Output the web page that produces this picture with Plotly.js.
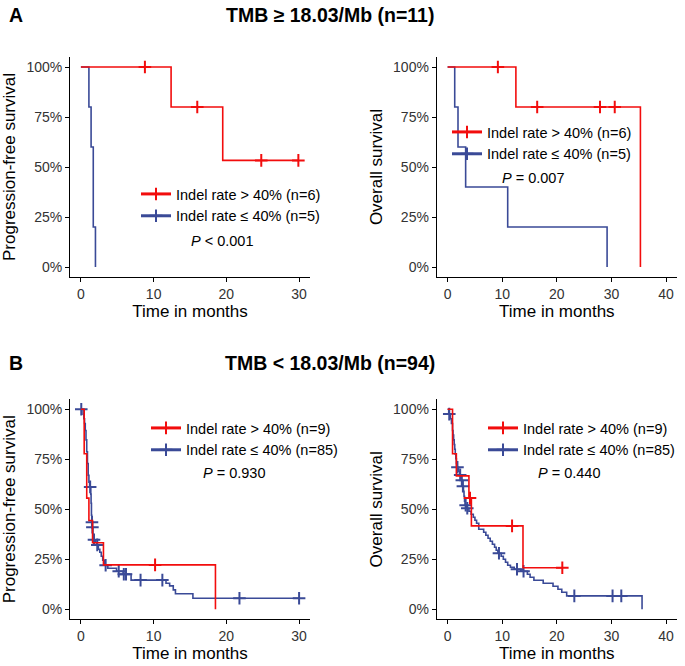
<!DOCTYPE html>
<html>
<head>
<meta charset="utf-8">
<script src="https://cdn.plot.ly/plotly-3.0.1.min.js"></script>
<style>html,body{margin:0;padding:0;background:#fff;}#chart{width:685px;height:666px;}</style>
</head>
<body>
<div id="chart"></div>
<script>
// ---------- DATA ----------
const groupNames = ["Indel rate > 40%", "Indel rate ≤ 40%"];
const panelTitles = ["TMB ≥ 18.03/Mb (n=11)", "TMB < 18.03/Mb (n=94)"];
const panelLetters = ["A", "B"];
const pValues = ["< 0.001", "= 0.007", "= 0.930", "= 0.440"];
const nHighA = [6, 5];
const nLowB = [9, 85];
const yTickVals = [0, 0.25, 0.5, 0.75, 1];
const yTickText = ["0%", "25%", "50%", "75%", "100%"];
const xTicksPFS = [0, 10, 20, 30];
const xTicksOS = [0, 10, 20, 30, 40];

// Panel A left: PFS, TMB high
const aPfsRedT = [0, 12.4, 19.5, 29.9];
const aPfsRedS = [1, 0.8, 0.533, 0.533];
const aPfsRedCensT = [8.8, 16.0, 24.8, 29.9];
const aPfsRedCensS = [1, 0.8, 0.533, 0.533];
const aPfsBlueT = [0, 1.1, 1.4, 1.7, 2.0];
const aPfsBlueS = [1, 0.8, 0.6, 0.2, 0];
const aPfsBlueCensT = [];
const aPfsBlueCensS = [];

// Panel A right: OS, TMB high
const aOsRedT = [0, 12.5, 35.3];
const aOsRedS = [1, 0.8, 0];
const aOsRedCensT = [9.2, 16.4, 27.9, 30.6];
const aOsRedCensS = [1, 0.8, 0.8, 0.8];
const aOsBlueT = [0, 1.3, 1.9, 3.3, 11.0, 29.2];
const aOsBlueS = [1, 0.8, 0.6, 0.4, 0.2, 0];
const aOsBlueCensT = [];
const aOsBlueCensS = [];

// Panel B left: PFS, TMB low
const bPfsRedT = [0, 0.45, 0.8, 1.1, 1.6, 3.1, 18.5];
const bPfsRedS = [1, 0.778, 0.556, 0.444, 0.333, 0.222, 0];
const bPfsRedCensT = [10.2];
const bPfsRedCensS = [0.222];
const bPfsBlueT = [0, 0.3, 0.4, 0.5, 0.6, 0.7, 0.8, 0.9, 1.0, 1.1, 1.2, 1.35, 1.4, 1.45, 1.5, 1.55, 1.65, 1.7, 2.0, 2.15, 2.4, 2.6, 2.8, 3.0, 3.2, 3.7, 4.9, 5.8, 6.9, 11.7, 12.2, 12.7, 13.0, 15.4, 30.0];
const bPfsBlueS = [1, 0.976, 0.953, 0.929, 0.894, 0.847, 0.788, 0.729, 0.67, 0.635, 0.612, 0.576, 0.53, 0.47, 0.435, 0.41, 0.375, 0.348, 0.335, 0.322, 0.30, 0.285, 0.265, 0.245, 0.22, 0.205, 0.19, 0.175, 0.146, 0.13, 0.117, 0.097, 0.078, 0.055, 0.055];
const bPfsBlueCensT = [0.05, 1.27, 1.52, 1.58, 1.8, 2.25, 3.4, 5.2, 5.9, 6.2, 8.2, 11.2, 21.8, 30.0];
const bPfsBlueCensS = [1, 0.612, 0.435, 0.41, 0.348, 0.322, 0.22, 0.19, 0.175, 0.175, 0.146, 0.146, 0.055, 0.055];

// Panel B right: OS, TMB low
const bOsRedT = [0, 0.9, 1.6, 3.9, 4.35, 13.8, 21.0];
const bOsRedS = [1, 0.778, 0.667, 0.556, 0.417, 0.208, 0.208];
const bOsRedCensT = [4.1, 11.8, 21.0];
const bOsRedCensS = [0.556, 0.417, 0.208];
const bOsBlueT = [0, 0.2, 0.5, 0.7, 0.9, 1.0, 1.1, 1.2, 1.3, 1.4, 1.5, 1.6, 1.65, 2.0, 2.2, 2.5, 2.7, 2.9, 3.0, 3.1, 3.2, 3.4, 3.9, 4.3, 4.7, 5.0, 5.3, 5.7, 6.6, 7.0, 7.4, 7.8, 8.2, 8.6, 8.9, 9.2, 9.8, 10.2, 10.6, 11.0, 11.5, 12.2, 13.4, 14.6, 15.1, 15.8, 17.5, 19.3, 20.2, 20.9, 21.8, 35.6];
const bOsBlueS = [1, 0.976, 0.953, 0.929, 0.894, 0.871, 0.847, 0.824, 0.80, 0.776, 0.753, 0.729, 0.71, 0.69, 0.672, 0.645, 0.615, 0.59, 0.565, 0.54, 0.52, 0.505, 0.49, 0.475, 0.46, 0.445, 0.43, 0.40, 0.385, 0.37, 0.355, 0.34, 0.325, 0.31, 0.295, 0.28, 0.265, 0.25, 0.235, 0.22, 0.21, 0.20, 0.19, 0.175, 0.16, 0.145, 0.13, 0.115, 0.10, 0.085, 0.067, 0];
const bOsBlueCensT = [0.3, 1.8, 2.3, 2.6, 2.8, 3.3, 3.6, 9.4, 12.7, 13.9, 23.2, 30.2, 31.8];
const bOsBlueCensS = [0.976, 0.71, 0.672, 0.645, 0.615, 0.52, 0.505, 0.28, 0.20, 0.19, 0.067, 0.067, 0.067];

// ---------- STYLE ----------
const RED = "#F20D0D";
const BLUE = "#3A4A97";
const FONT = "Liberation Sans, Arial, sans-serif";
const W = 685, H = 666;

const panels = [
  {xa: "x", ya: "y", leg: "legend", redT: aPfsRedT, redS: aPfsRedS, redCT: aPfsRedCensT, redCS: aPfsRedCensS,
   blueT: aPfsBlueT, blueS: aPfsBlueS, blueCT: aPfsBlueCensT, blueCS: aPfsBlueCensS, n: nHighA},
  {xa: "x2", ya: "y2", leg: "legend2", redT: aOsRedT, redS: aOsRedS, redCT: aOsRedCensT, redCS: aOsRedCensS,
   blueT: aOsBlueT, blueS: aOsBlueS, blueCT: aOsBlueCensT, blueCS: aOsBlueCensS, n: nHighA},
  {xa: "x3", ya: "y3", leg: "legend3", redT: bPfsRedT, redS: bPfsRedS, redCT: bPfsRedCensT, redCS: bPfsRedCensS,
   blueT: bPfsBlueT, blueS: bPfsBlueS, blueCT: bPfsBlueCensT, blueCS: bPfsBlueCensS, n: nLowB},
  {xa: "x4", ya: "y4", leg: "legend4", redT: bOsRedT, redS: bOsRedS, redCT: bOsRedCensT, redCS: bOsRedCensS,
   blueT: bOsBlueT, blueS: bOsBlueS, blueCT: bOsBlueCensT, blueCS: bOsBlueCensS, n: nLowB}
];

const traces = [];
panels.forEach(p => {
  const groups = [
    {t: p.redT, s: p.redS, ct: p.redCT, cs: p.redCS, c: RED, name: groupNames[0] + " (n=" + p.n[0] + ")"},
    {t: p.blueT, s: p.blueS, ct: p.blueCT, cs: p.blueCS, c: BLUE, name: groupNames[1] + " (n=" + p.n[1] + ")"}
  ];
  groups.forEach(g => {
    traces.push({x: [null], y: [null], xaxis: p.xa, yaxis: p.ya, type: "scatter", mode: "lines+markers",
      name: g.name, legend: p.leg, showlegend: true,
      line: {color: g.c, width: 3},
      marker: {symbol: "cross-thin", size: 9, line: {color: g.c, width: 2}}});
  });
  [groups[1], groups[0]].forEach(g => {
    traces.push({x: g.t, y: g.s, xaxis: p.xa, yaxis: p.ya, type: "scatter", mode: "lines",
      line: {shape: "hv", color: g.c, width: 1.6}, showlegend: false, hoverinfo: "skip"});
    if (g.ct.length) {
      traces.push({x: g.ct, y: g.cs, xaxis: p.xa, yaxis: p.ya, type: "scatter", mode: "markers",
        marker: {symbol: "cross-thin", size: 9, line: {color: g.c, width: 2}}, showlegend: false, hoverinfo: "skip"});
    }
  });
});

function xAxis(dom, range, ticks, anchor) {
  return {domain: dom, range: range, anchor: anchor, tickvals: ticks, ticktext: ticks.map(String),
    showline: true, linecolor: "#000", linewidth: 1, ticks: "outside", ticklen: 4, tickcolor: "#000",
    showgrid: false, zeroline: false, fixedrange: true,
    tickfont: {family: FONT, size: 14, color: "#333"},
    title: {text: "Time in months", font: {family: FONT, size: 17, color: "#000"}, standoff: 2}};
}
function yAxis(dom, title, anchor) {
  return {domain: dom, range: [-0.05, 1.05], anchor: anchor, tickvals: yTickVals, ticktext: yTickText,
    showline: true, linecolor: "#000", linewidth: 1, ticks: "outside", ticklen: 4, tickcolor: "#000",
    showgrid: false, zeroline: false, fixedrange: true,
    tickfont: {family: FONT, size: 14, color: "#333"},
    title: {text: title, font: {family: FONT, size: 17, color: "#000"}, standoff: 6}};
}

const xL = [70 / W, 310 / W], xR = [436.7 / W, 677 / W];
const yTop = [1 - 277 / H, 1 - 57 / H], yBot = [1 - 619.3 / H, 1 - 399.3 / H];

function leg(xpx, ypx) {
  return {x: xpx / W, y: 1 - ypx / H, xanchor: "left", yanchor: "top", bgcolor: "rgba(0,0,0,0)",
    font: {family: FONT, size: 14.5, color: "#000"}, itemwidth: 30, tracegroupgap: 0};
}

const annFont = {family: FONT, size: 14.5, color: "#000"};
const titleFont = {family: FONT, size: 19.5, color: "#000"};
function ann(text, xpx, ypx, xanchor, font) {
  return {text: text, x: xpx / W, y: 1 - ypx / H, xref: "paper", yref: "paper", xanchor: xanchor,
    yanchor: "middle", showarrow: false, font: font};
}
const annotations = [
  ann("<b>" + panelLetters[0] + "</b>", 16, 15, "center", titleFont),
  ann("<b>" + panelTitles[0] + "</b>", 329.5, 15, "center", titleFont),
  ann("<b>" + panelLetters[1] + "</b>", 16, 363, "center", titleFont),
  ann("<b>" + panelTitles[1] + "</b>", 329.5, 363, "center", titleFont),
  ann("<i>P</i> " + pValues[0], 189, 241, "left", annFont),
  ann("<i>P</i> " + pValues[1], 500, 178, "left", annFont),
  ann("<i>P</i> " + pValues[2], 201, 473, "left", annFont),
  ann("<i>P</i> " + pValues[3], 536, 473, "left", annFont)
];

const layout = {
  width: W, height: H, autosize: false,
  margin: {l: 0, r: 0, t: 0, b: 0, pad: 0},
  paper_bgcolor: "#fff", plot_bgcolor: "#fff",
  font: {family: FONT},
  xaxis: xAxis(xL, [-1.5, 31.5], xTicksPFS, "y"),
  yaxis: yAxis(yTop, "Progression-free survival", "x"),
  xaxis2: xAxis(xR, [-2, 42], xTicksOS, "y2"),
  yaxis2: yAxis(yTop, "Overall survival", "x2"),
  xaxis3: xAxis(xL, [-1.5, 31.5], xTicksPFS, "y3"),
  yaxis3: yAxis(yBot, "Progression-free survival", "x3"),
  xaxis4: xAxis(xR, [-2, 42], xTicksOS, "y4"),
  yaxis4: yAxis(yBot, "Overall survival", "x4"),
  legend: leg(136, 178),
  legend2: leg(447, 116),
  legend3: leg(146, 412),
  legend4: leg(483, 412),
  annotations: annotations,
  showlegend: true
};

Plotly.newPlot("chart", traces, layout, {displayModeBar: false, staticPlot: true});
</script>
</body>
</html>
